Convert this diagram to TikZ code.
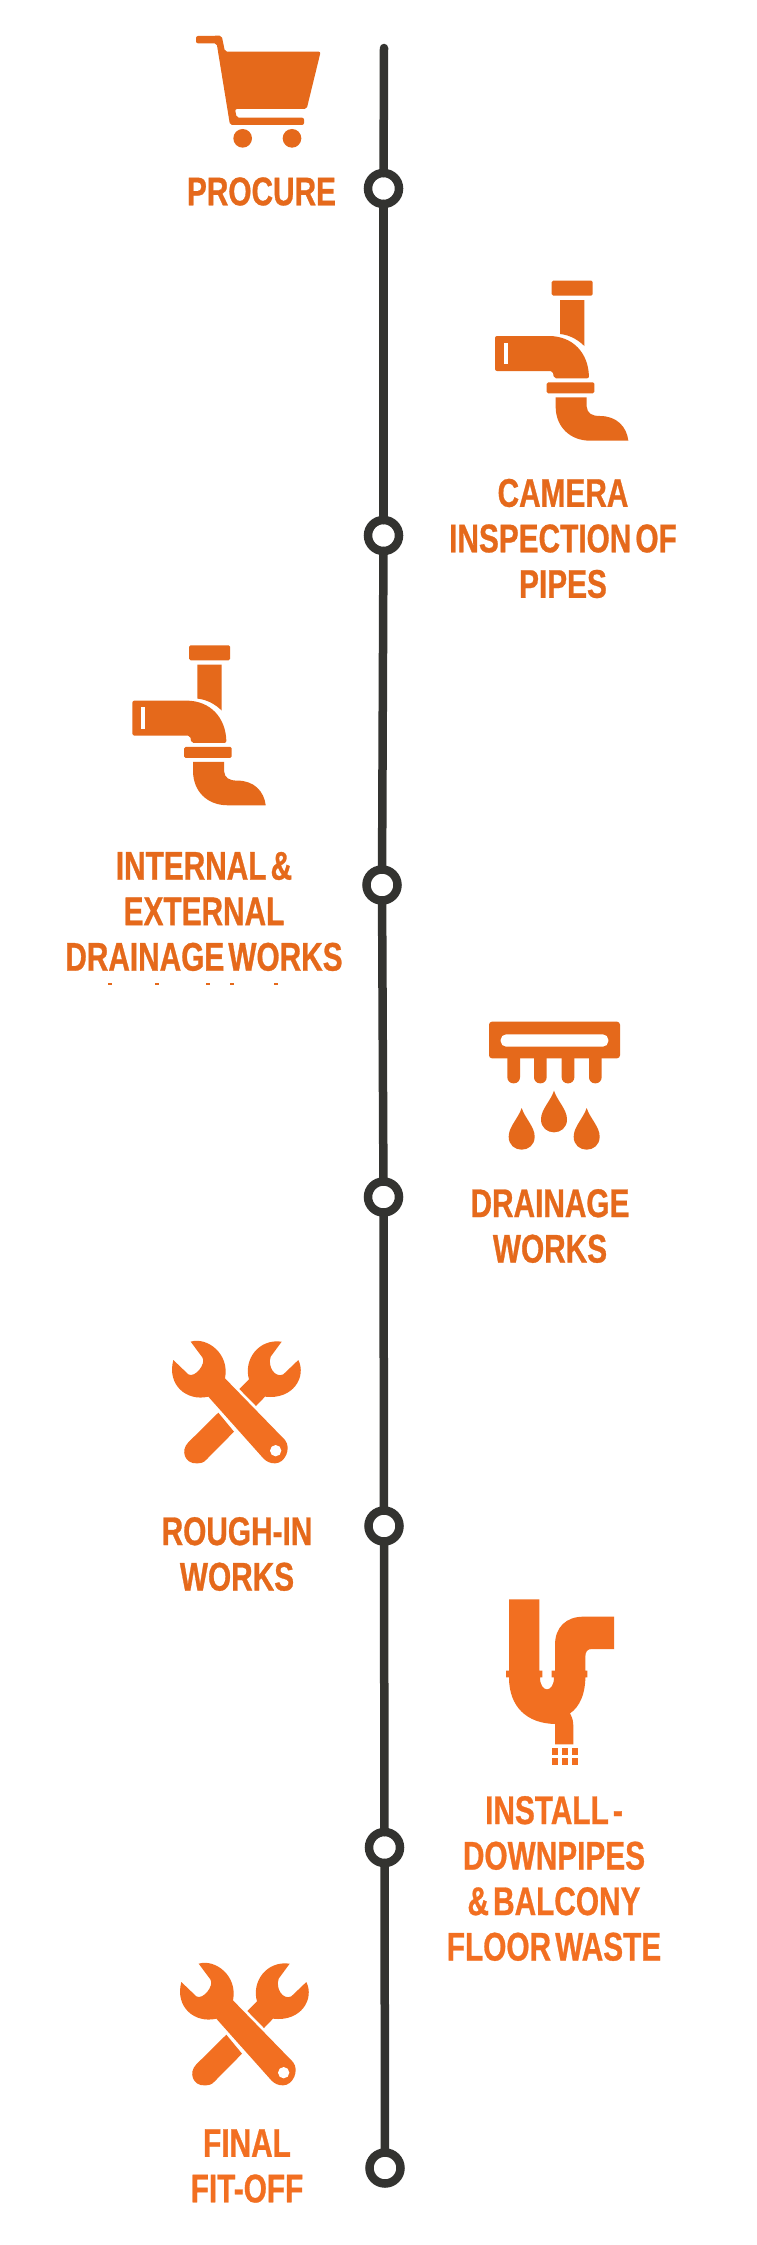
\documentclass[tikz,border=0pt]{standalone}
\usepackage{fontspec}
\setmainfont[FakeStretch=0.745,WordSpace=0.5,BoldFeatures={FakeBold=0.7}]{Liberation Sans}
\definecolor{ink}{HTML}{333330}
\definecolor{oa}{HTML}{E5691B}
\definecolor{ob}{HTML}{F26F21}
\tikzset{
  ring/.style={circle,draw=ink,fill=white,line width=8.5pt,minimum size=31pt,inner sep=0pt,outer sep=0pt},
  spine/.style={draw=ink,line width=8.5pt,line cap=round},
  lab/.style={text=oa,font=\fontsize{40}{45.5}\selectfont\bfseries,align=center,inner sep=0pt,outer sep=0pt},
  labb/.style={lab,text=ob},
}
\newcommand{\faucetshape}{%
  \fill[oa,rounded corners=1.5pt] (335,62) rectangle (458,107);
  \fill[oa] (360,120) -- (433,120) -- (433,258) .. controls (415,240) and (390,225) .. (360,222) -- cycle;
  \fill[oa,rounded corners=2pt] (165,228) -- (320,228) .. controls (400,228) and (445,280) .. (447,355) -- (342,355) -- (338,333) -- (165,333) -- cycle;
  \fill[white] (192,248) rectangle (203,312);
  \fill[oa,rounded corners=1.5pt] (320,367) rectangle (463,400);
  \fill[oa] (347,412) -- (440,412) -- (440,440) .. controls (442,460) and (455,468) .. (480,468) .. controls (530,468) and (560,500) .. (565,542) -- (450,542) .. controls (390,542) and (347,500) .. (347,440) -- cycle;
}
\newcommand{\wrenchshape}{%
  \fill[ob] (205,278) -- (115,367) .. controls (90,392) and (105,432) .. (140,430) .. controls (152,430) and (162,428) .. (170,418) -- (252,335) -- cycle;
  \fill[ob] (268,207) -- (297,178) .. controls (280,120) and (325,55) .. (395,65) -- (362,110) .. controls (352,140) and (375,175) .. (400,163) -- (445,120) .. controls (470,170) and (430,240) .. (345,230) -- (318,258) -- cycle;
  \fill[ob] (122,65) .. controls (170,50) and (240,100) .. (225,175) -- (405,360) .. controls (425,385) and (405,430) .. (375,430) .. controls (360,430) and (350,425) .. (340,415) -- (175,230) .. controls (110,245) and (50,195) .. (70,120) -- (115,163) .. controls (135,175) and (170,130) .. (157,112) -- cycle;
  \fill[white] (377,392) circle (17);
}
\begin{document}
\begin{tikzpicture}[x=1pt,y=-1pt]
\useasboundingbox (0,0) rectangle (756,2245);
\fill[white] (0,0) rectangle (756,2245);

% spine
\coordinate (top) at (384,48);
\node[ring] (n1) at (383.5,188.5) {};
\node[ring] (n2) at (383.5,535.5) {};
\node[ring] (n3) at (382,885) {};
\node[ring] (n4) at (383.5,1197) {};
\node[ring] (n5) at (384,1526) {};
\node[ring] (n6) at (384.5,1847.5) {};
\node[ring] (n7) at (385,2168) {};
\draw[spine] (top) -- (n1);
\draw[spine] (n1) -- (n2);
\draw[spine] (n2) -- (n3);
\draw[spine] (n3) -- (n4);
\draw[spine] (n4) -- (n5);
\draw[spine] (n5) -- (n6);
\draw[spine] (n6) -- (n7);

% cart
\begin{scope}[shift={(170,20)},scale=1/3]
  \fill[oa,rounded corners=2pt] (78,70) -- (78,48) -- (155,47) -- (165,95) -- (452,95) -- (410,267) -- (195,267) -- (200,293) -- (402,293) -- (402,315) -- (180,315) -- (140,70) -- cycle;
  \fill[oa] (218,355) circle (28);
  \fill[oa] (366,355) circle (28);
\end{scope}

% faucets
\begin{scope}[shift={(440,260)},scale=1/3]\faucetshape\end{scope}
\begin{scope}[shift={(77.4,624.6)},scale=1/3]\faucetshape\end{scope}

% shower
\begin{scope}[shift={(460,1000)},scale=1/3]
  \foreach \a in {142,222,305,387}{
    \fill[oa,rounded corners=6pt] (\a,120) rectangle (\a+38,250);
  }
  \fill[oa,rounded corners=3pt] (87,65) -- (480,65) -- (480,175) -- (87,175) -- cycle;
  \fill[white,rounded corners=5.5pt] (122,103) rectangle (445,140);
  \foreach \cx/\cy in {282/358,185/410,380/410}{
    \fill[oa] (\cx,\cy-86) .. controls (\cx+10,\cy-55) and (\cx+39,\cy-30) .. (\cx+39,\cy)
      .. controls (\cx+39,\cy+52) and (\cx-39,\cy+52) .. (\cx-39,\cy)
      .. controls (\cx-39,\cy-30) and (\cx-10,\cy-55) .. (\cx,\cy-86) -- cycle;
  }
\end{scope}

% wrenches
\begin{scope}[shift={(150,1320)},scale=1/3]\wrenchshape\end{scope}
\begin{scope}[shift={(158,1942)},scale=1/3]\wrenchshape\end{scope}

% downpipe
\begin{scope}[shift={(480,1580)},scale=1/3]
  \fill[ob] (87,58) -- (178,58) -- (178,272) -- (187,272) -- (187,292) -- (180,292) .. controls (180,340) and (222,340) .. (222,292) -- (215,292) -- (215,272) -- (225,272) -- (225,195) .. controls (225,140) and (260,110) .. (310,110) -- (402,110) -- (402,207) -- (335,207) .. controls (322,207) and (316,215) .. (316,230) -- (316,272) -- (322,272) -- (322,292) -- (316,292) .. controls (316,340) and (300,380) .. (270,400) .. controls (278,415) and (280,425) .. (280,440) -- (280,493) -- (225,493) -- (225,432) .. controls (140,430) and (87,380) .. (87,292) -- (78,292) -- (78,272) -- (87,272) -- cycle;
  \foreach \gx in {215,245,275}{\foreach \gy in {505,535}{
    \fill[ob] (\gx,\gy) rectangle (\gx+20,\gy+20);
  }}
\end{scope}

% labels
\node[lab] (t1) at (261.5,191.5) {PROCURE};
\node[lab] (t2) at (563,538.5) {CAMERA\\INSPECTION OF\\PIPES};
\node[lab] (t3) at (204,911.5) {INTERNAL \&\\EXTERNAL\\DRAINAGE WORKS};
\node[lab] (t4) at (550,1226) {DRAINAGE\\WORKS};
\node[lab] (t5) at (237,1554) {ROUGH-IN\\WORKS};
\node[labb] (t6) at (554,1878.5) {INSTALL -\\DOWNPIPES\\\& BALCONY\\FLOOR WASTE};
\node[labb] (t7) at (247,2166) {FINAL\\FIT-OFF};

% clipped line remnants
\foreach \mx in {110,157,208,232,276}{
  \fill[oa] (\mx-2,982.5) rectangle (\mx+2,984.5);
}
\end{tikzpicture}
\end{document}
